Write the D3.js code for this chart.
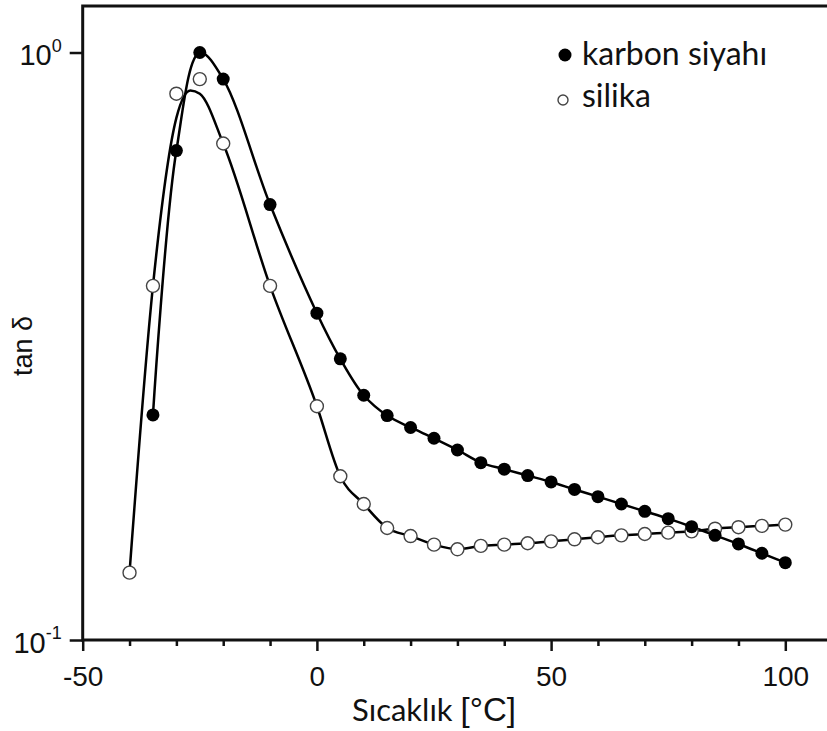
<!DOCTYPE html>
<html>
<head>
<meta charset="utf-8">
<script src="https://cdn.jsdelivr.net/npm/d3@7"></script>
<style>
body { margin: 0; background: #fff; }
</style>
</head>
<body>
<script>
var svg_width  = 827;
var svg_height = 731;

// data
var karbonTemps = [-35, -30, -25, -20, -10, 0, 5, 10, 15, 20, 25, 30, 35, 40, 45, 50, 55, 60, 65, 70, 75, 80, 85, 90, 95, 100];
var karbon      = [0.2416, 0.681, 1.0, 0.901, 0.551, 0.360, 0.301, 0.261, 0.241, 0.230, 0.2205, 0.2106, 0.2004, 0.1953, 0.1905, 0.1858, 0.1804, 0.1754, 0.1704, 0.1656, 0.1609, 0.1559, 0.1507, 0.1457, 0.1405, 0.1354];

var silikaTemps = [-40, -35, -30, -25, -20, -10, 0, 5, 10, 15, 20, 25, 30, 35, 40, 45, 50, 55, 60, 65, 70, 75, 80, 85, 90, 95, 100];
var silika      = [0.1302, 0.4007, 0.851, 0.901, 0.700, 0.4007, 0.250, 0.190, 0.1704, 0.1551, 0.1503, 0.1453, 0.1427, 0.1446, 0.1453, 0.1461, 0.1472, 0.1484, 0.1496, 0.1507, 0.1515, 0.1523, 0.1531, 0.1547, 0.1556, 0.1564, 0.1572];
// fitted curve for silika (sits under the points near the peak)
var silikaFitTemps = [-40, -35, -30, -27, -25, -20, -10, 0, 5, 10, 15, 20, 25, 30, 35, 40, 45, 50, 55, 60, 65, 70, 75, 80, 85, 90, 95, 100];
var silikaFit      = [0.1302, 0.4007, 0.774, 0.862, 0.851, 0.700, 0.4007, 0.250, 0.190, 0.1704, 0.1551, 0.1503, 0.1453, 0.1427, 0.1446, 0.1453, 0.1461, 0.1472, 0.1484, 0.1496, 0.1507, 0.1515, 0.1523, 0.1531, 0.1547, 0.1556, 0.1564, 0.1572];

var xMajor = [-50, 0, 50, 100];
var xMinor = [-40, -30, -20, -10, 10, 20, 30, 40, 60, 70, 80, 90];
var yTicks = [0.1, 1];

var legendNames = ["karbon siyahı", "silika"];

var left = 82.7, top_ = 6, bottom = 640;

var svg = d3.select('body').append('svg')
            .attr('width', svg_width)
            .attr('height', svg_height)
            .style('font-family', 'Liberation Sans, Arial, sans-serif');

var x = d3.scaleLinear().domain([-50, 110]).range([left, left + 160 * 4.684]);
var y = d3.scaleLog().domain([0.1, 1.2]).range([bottom, top_]);

//frame, right side runs off the picture
svg.append("rect")
   .attr("x", x(-50)).attr("y", y(1.2))
   .attr("width", x(110) - x(-50)).attr("height", y(0.1) - y(1.2))
   .attr("fill", "none").attr("stroke", "#111").attr("stroke-width", 3);

// x axis major + minor ticks
var xAxis = svg.append("g")
   .attr("transform", "translate(0," + bottom + ")")
   .call(d3.axisBottom(x).tickValues(xMajor).tickSize(11).tickPadding(15).tickFormat(d3.format("d")));
xAxis.select(".domain").remove();
xAxis.selectAll("line").attr("stroke", "#111").attr("stroke-width", 2.5);
xAxis.selectAll("text").attr("font-size", 28).attr("fill", "#111")
     .attr("font-family", "Liberation Sans, Arial, sans-serif")
     .text(d => d < 0 ? "-" + Math.abs(d) : d);

var xMin = svg.append("g")
   .attr("transform", "translate(0," + bottom + ")")
   .call(d3.axisBottom(x).tickValues(xMinor).tickSize(6).tickFormat(""));
xMin.select(".domain").remove();
xMin.selectAll("line").attr("stroke", "#111").attr("stroke-width", 2.5);

// y axis, 10^n labels
var yAxis = svg.append("g")
   .attr("transform", "translate(" + left + ",0)")
   .call(d3.axisLeft(y).tickValues(yTicks).tickSize(13).tickPadding(8).tickFormat(""));
yAxis.select(".domain").remove();
yAxis.selectAll("line").attr("stroke", "#111").attr("stroke-width", 2.5);
yAxis.selectAll(".tick text").each(function(d) {
    var t = d3.select(this).attr("font-size", 29).attr("fill", "#111")
              .attr("font-family", "Liberation Sans, Arial, sans-serif")
              .attr("dy", "0.42em");
    t.append("tspan").text("10");
    t.append("tspan").attr("font-size", 18).attr("dy", "-0.75em")
     .text(Math.round(Math.log10(d)));
});

// axis titles
var xt = svg.append("text")
   .attr("x", 352).attr("y", 721)
   .attr("fill", "#111");
xt.append("tspan").attr("font-family", "Lato, sans-serif").attr("font-size", 31).text("Sıcaklık ");
xt.append("tspan").attr("font-family", "Liberation Sans, Arial, sans-serif").attr("font-size", 33).text("[°C]");

svg.append("text")
   .attr("transform", "translate(32,346) rotate(-90)")
   .attr("text-anchor", "middle")
   .attr("font-size", 27).attr("fill", "#111")
   .text("tan δ");

// curves
var karbonLine = d3.line()
    .x(d => x(d[0]))
    .y(d => y(d[1]))
    .curve(d3.curveCatmullRom.alpha(0.5));
var silikaLine = d3.line()
    .x(d => x(d[0]))
    .y(d => y(d[1]))
    .curve(d3.curveMonotoneX);

var karbonPts = karbonTemps.map((t, i) => [t, karbon[i]]);
var silikaPts = silikaTemps.map((t, i) => [t, silika[i]]);
var silikaFitPts = silikaFitTemps.map((t, i) => [t, silikaFit[i]]);

svg.append("path").datum(silikaFitPts)
   .attr("d", silikaLine).attr("fill", "none").attr("stroke", "#000").attr("stroke-width", 2.5);
svg.append("path").datum(karbonPts)
   .attr("d", karbonLine).attr("fill", "none").attr("stroke", "#000").attr("stroke-width", 2.5);

svg.append("g").selectAll("circle")
   .data(silikaPts)
   .enter().append("circle")
   .attr("cx", d => x(d[0])).attr("cy", d => y(d[1]))
   .attr("r", 6.5)
   .attr("fill", "#fff").attr("stroke", "#444").attr("stroke-width", 1.4);

svg.append("g").selectAll("circle")
   .data(karbonPts)
   .enter().append("circle")
   .attr("cx", d => x(d[0])).attr("cy", d => y(d[1]))
   .attr("r", 6.5)
   .attr("fill", "#000");

// legend
var legend = svg.append("g").attr("transform", "translate(565,55)");
legend.append("circle").attr("cx", 0).attr("cy", 0).attr("r", 6.5).attr("fill", "#000");
legend.append("circle").attr("cx", -2).attr("cy", 45).attr("r", 5)
      .attr("fill", "#fff").attr("stroke", "#444").attr("stroke-width", 1.4);
legend.selectAll("text")
      .data(legendNames)
      .enter().append("text")
      .attr("x", 17).attr("y", (d, i) => 10 + i * 42)
      .attr("font-family", "Lato, sans-serif")
      .attr("font-size", 32).attr("fill", "#111")
      .text(d => d);
</script>
</body>
</html>
